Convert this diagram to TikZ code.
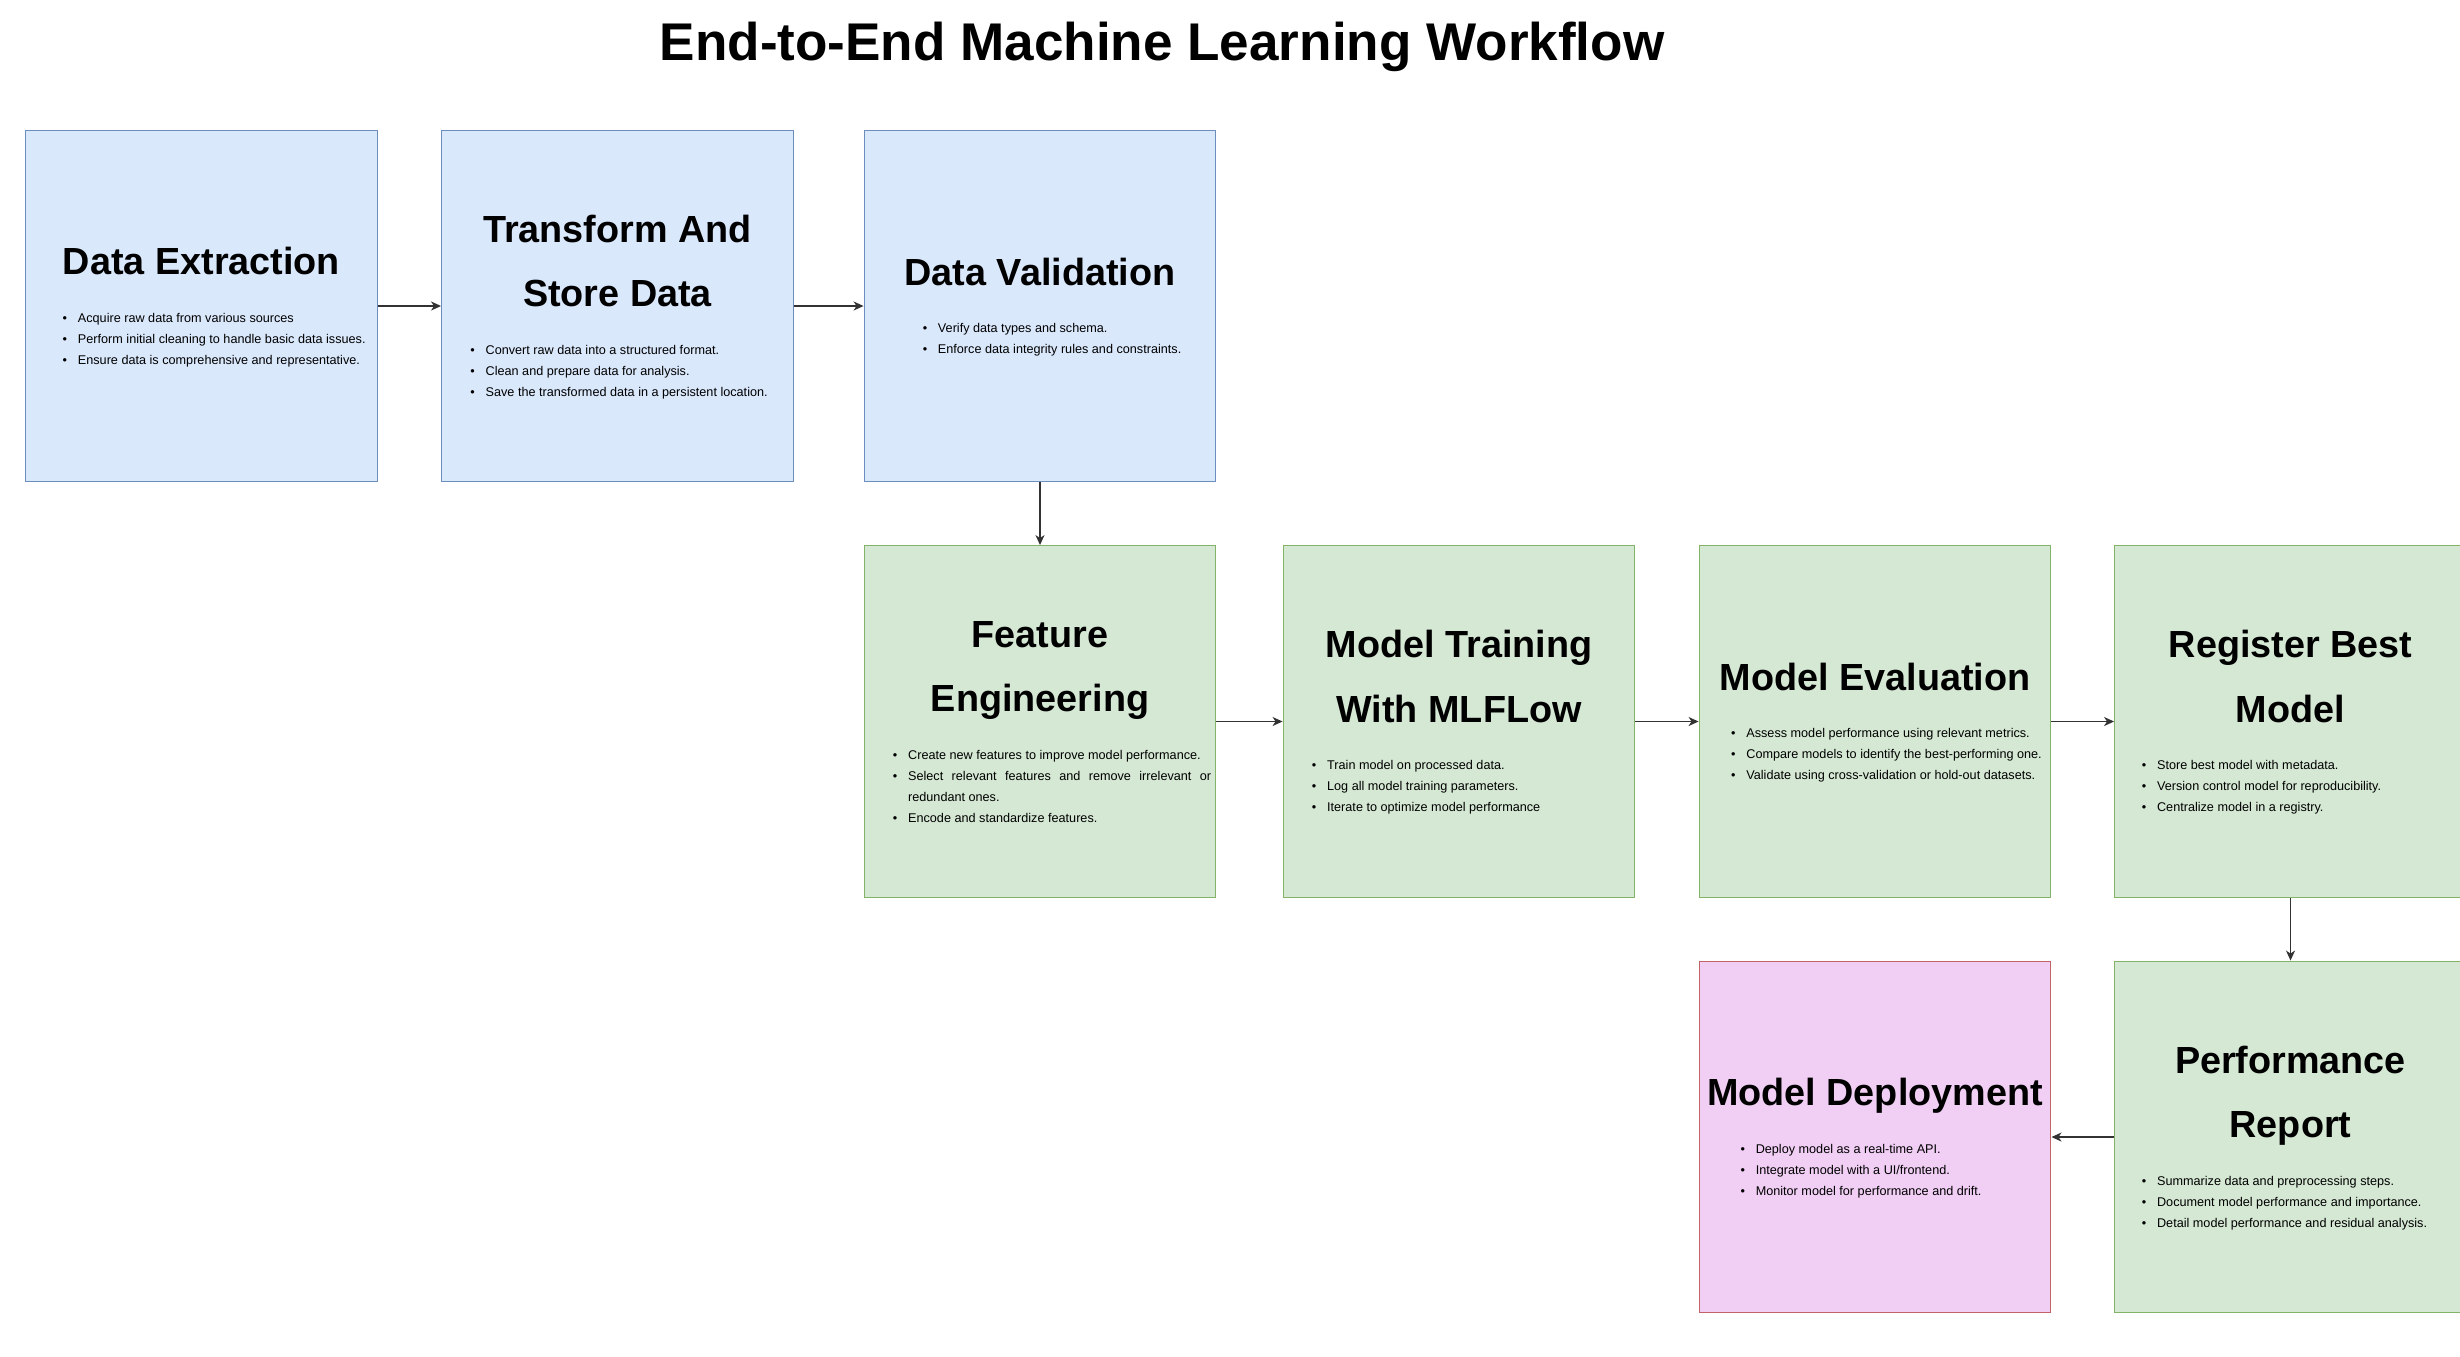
\documentclass[tikz,border=0pt]{standalone}
\usepackage{fontspec}
\setmainfont{Liberation Sans}
\usetikzlibrary{positioning, arrows.meta}

\definecolor{blueFill}{HTML}{DAE8FC}
\definecolor{blueLine}{HTML}{6C8EBF}
\definecolor{greenFill}{HTML}{D5E8D4}
\definecolor{greenLine}{HTML}{82B366}
\definecolor{pinkFill}{RGB}{241,206,244}
\definecolor{pinkLine}{HTML}{C0646A}
\definecolor{flowGray}{RGB}{50,50,50}

\tikzset{
	stagebox/.style={draw, line width=0.4pt, minimum width=3.515cm, minimum height=3.515cm, inner sep=0pt},
	bluebox/.style={stagebox, fill=blueFill, draw=blueLine},
	greenbox/.style={stagebox, fill=greenFill, draw=greenLine},
	pinkbox/.style={stagebox, fill=pinkFill, draw=pinkLine},
	stagehead/.style={font=\fontsize{10.75pt}{18.3pt}\selectfont\bfseries, align=center, inner sep=0pt, anchor=base},
	stagelist/.style={font=\fontsize{3.6pt}{5.975pt}\selectfont, align=left, inner sep=0pt, anchor=base west},
	flow/.style={-{Stealth[length=0.1cm, width=0.09cm, inset=0.03cm]}, line width=0.4pt, draw=flowGray},
}
\newcommand{\bitem}{\makebox[0.152cm][l]{\textbullet}}

\begin{document}
\begin{tikzpicture}
		\path[use as bounding box, clip] (0, 0) rectangle (24.6, -13.56);
		\node[font=\fontsize{15.1pt}{18pt}\selectfont\bfseries, anchor=base, inner sep=0pt] (title) at (11.62, -0.60) {End-to-End Machine Learning Workflow};

		\node[bluebox] (extract) at (2.015, -3.06) {};
		\node[bluebox] (transform) at (6.175, -3.06) {};
		\node[bluebox] (validate) at (10.40, -3.06) {};
		\node[greenbox] (features) at (10.40, -7.215) {};
		\node[greenbox] (training) at (14.59, -7.215) {};
		\node[greenbox] (evaluate) at (18.75, -7.215) {};
		\node[greenbox] (register) at (22.905, -7.215) {};
		\node[greenbox] (report) at (22.905, -11.37) {};
		\node[pinkbox] (deploy) at (18.75, -11.37) {};

		% base of a multi-line node = baseline of its last line
		\node[stagehead] (extract-h) at ([yshift=-1.45cm]extract.north) {Data Extraction};
		\node[stagelist] (extract-l) at ([xshift=0.37cm, yshift=-2.345cm]extract.north west) {\bitem Acquire raw data from various sources\\ \bitem Perform initial cleaning to handle basic data issues.\\ \bitem Ensure data is comprehensive and representative.};

		\node[stagehead] (transform-h) at ([yshift=-1.772cm]transform.north) {Transform And\\Store Data};
		\node[stagelist] (transform-l) at ([xshift=0.287cm, yshift=-2.667cm]transform.north west) {\bitem Convert raw data into a structured format.\\ \bitem Clean and prepare data for analysis.\\ \bitem Save the transformed data in a persistent location.};

		\node[stagehead] (validate-h) at ([yshift=-1.555cm]validate.north) {Data Validation};
		\node[stagelist] (validate-l) at ([xshift=0.585cm, yshift=-2.24cm]validate.north west) {\bitem Verify data types and schema.\\ \bitem Enforce data integrity rules and constraints.};

		\node[stagehead] (features-h) at ([yshift=-1.667cm]features.north) {Feature\\Engineering};
		\node[stagelist] (features-l) at ([xshift=0.287cm, yshift=-2.772cm]features.north west) {\bitem Create new features to improve model performance.\\ \bitem\makebox[3.03cm][s]{Select relevant features and remove irrelevant or}\\ \hspace*{0.152cm}redundant ones.\\ \bitem Encode and standardize features.};

		\node[stagehead] (training-h) at ([yshift=-1.772cm]training.north) {Model Training\\With MLFLow};
		\node[stagelist] (training-l) at ([xshift=0.287cm, yshift=-2.667cm]training.north west) {\bitem Train model on processed data.\\ \bitem Log all model training parameters.\\ \bitem Iterate to optimize model performance};

		\node[stagehead] (evaluate-h) at ([yshift=-1.45cm]evaluate.north) {Model Evaluation};
		\node[stagelist] (evaluate-l) at ([xshift=0.319cm, yshift=-2.345cm]evaluate.north west) {\bitem Assess model performance using relevant metrics.\\ \bitem Compare models to identify the best-performing one.\\ \bitem Validate using cross-validation or hold-out datasets.};

		\node[stagehead] (register-h) at ([yshift=-1.772cm]register.north) {Register Best\\Model};
		\node[stagelist] (register-l) at ([xshift=0.271cm, yshift=-2.667cm]register.north west) {\bitem Store best model with metadata.\\ \bitem Version control model for reproducibility.\\ \bitem Centralize model in a registry.};

		\node[stagehead] (report-h) at ([yshift=-1.772cm]report.north) {Performance\\Report};
		\node[stagelist] (report-l) at ([xshift=0.271cm, yshift=-2.667cm]report.north west) {\bitem Summarize data and preprocessing steps.\\ \bitem Document model performance and importance.\\ \bitem Detail model performance and residual analysis.};

		\node[stagehead] (deploy-h) at ([yshift=-1.45cm]deploy.north) {Model Deployment};
		\node[stagelist] (deploy-l) at ([xshift=0.413cm, yshift=-2.345cm]deploy.north west) {\bitem Deploy model as a real-time API.\\ \bitem Integrate model with a UI/frontend.\\ \bitem Monitor model for performance and drift.};

		\draw[flow] (extract) -- (transform);
		\draw[flow] (transform) -- (validate);
		\draw[flow] (validate) -- (features);
		\draw[flow] (features) -- (training);
		\draw[flow] (training) -- (evaluate);
		\draw[flow] (evaluate) -- (register);
		\draw[flow] (register) -- (report);
		\draw[flow] (report) -- (deploy);
	\end{tikzpicture}
\end{document}
